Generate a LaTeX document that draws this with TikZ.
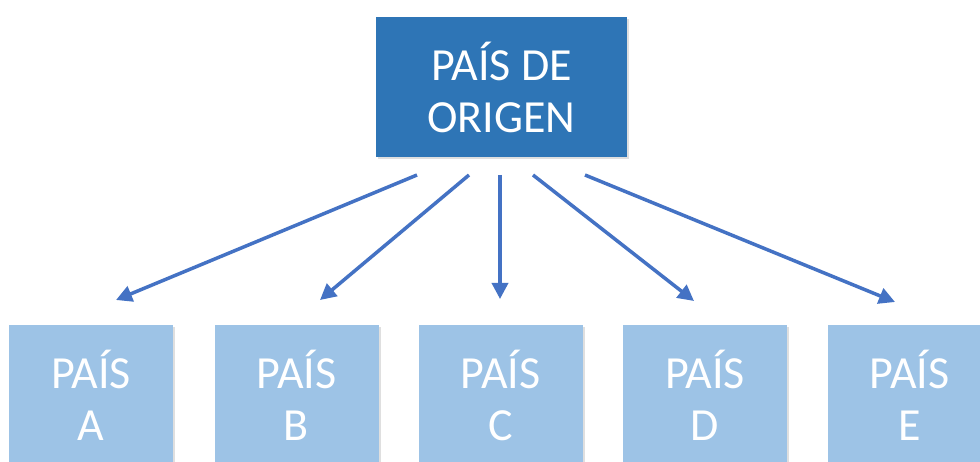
\documentclass[tikz,border=0pt]{standalone}
\usepackage{fontspec}
\setmainfont{Carlito}
\usetikzlibrary{arrows.meta,shadows,calc}
\definecolor{topblue}{HTML}{2E75B6}
\definecolor{lightblue}{HTML}{9DC3E6}
\definecolor{arrowblue}{HTML}{4472C4}
\tikzset{
  boxbase/.style={minimum width=164pt, minimum height=140pt, inner sep=0pt,
    align=center, text=white, font=\fontsize{46}{52}\selectfont,
    drop shadow={opacity=0.25, shadow xshift=2pt, shadow yshift=-2pt}},
  topbox/.style={boxbase, fill=topblue, minimum width=251pt},
  subbox/.style={boxbase, fill=lightblue},
  conn/.style={draw=arrowblue, line width=3.5pt, -{Triangle[length=16pt,width=16pt]}}
}
\begin{document}
\begin{tikzpicture}[x=1pt,y=-1pt]
\fill[white] (0,0) rectangle (980,462);
\clip (0,0) rectangle (980,462);
\node[topbox] (top) at (501.5,87) {PAÍS DE\\ORIGEN};
\node[subbox] (A) at (91,395) {PAÍS\\A};
\node[subbox] (B) at (296.5,395) {PAÍS\\B};
\node[subbox] (C) at (500.5,395) {PAÍS\\C};
\node[subbox] (D) at (705,395) {PAÍS\\D};
\node[subbox] (E) at (909.5,395) {PAÍS\\E};
\coordinate (sA) at (417,175);
\coordinate (sB) at (469,175);
\coordinate (sC) at (500,175);
\coordinate (sD) at (533,175);
\coordinate (sE) at (585,175);
\coordinate (eA) at (116,300);
\coordinate (eB) at (320,300);
\coordinate (eC) at (500,299);
\coordinate (eD) at (694,301);
\coordinate (eE) at (895,302);
\draw[conn] (sA) -- (eA);
\draw[conn] (sB) -- (eB);
\draw[conn] (sC) -- (eC);
\draw[conn] (sD) -- (eD);
\draw[conn] (sE) -- (eE);
\end{tikzpicture}
\end{document}
